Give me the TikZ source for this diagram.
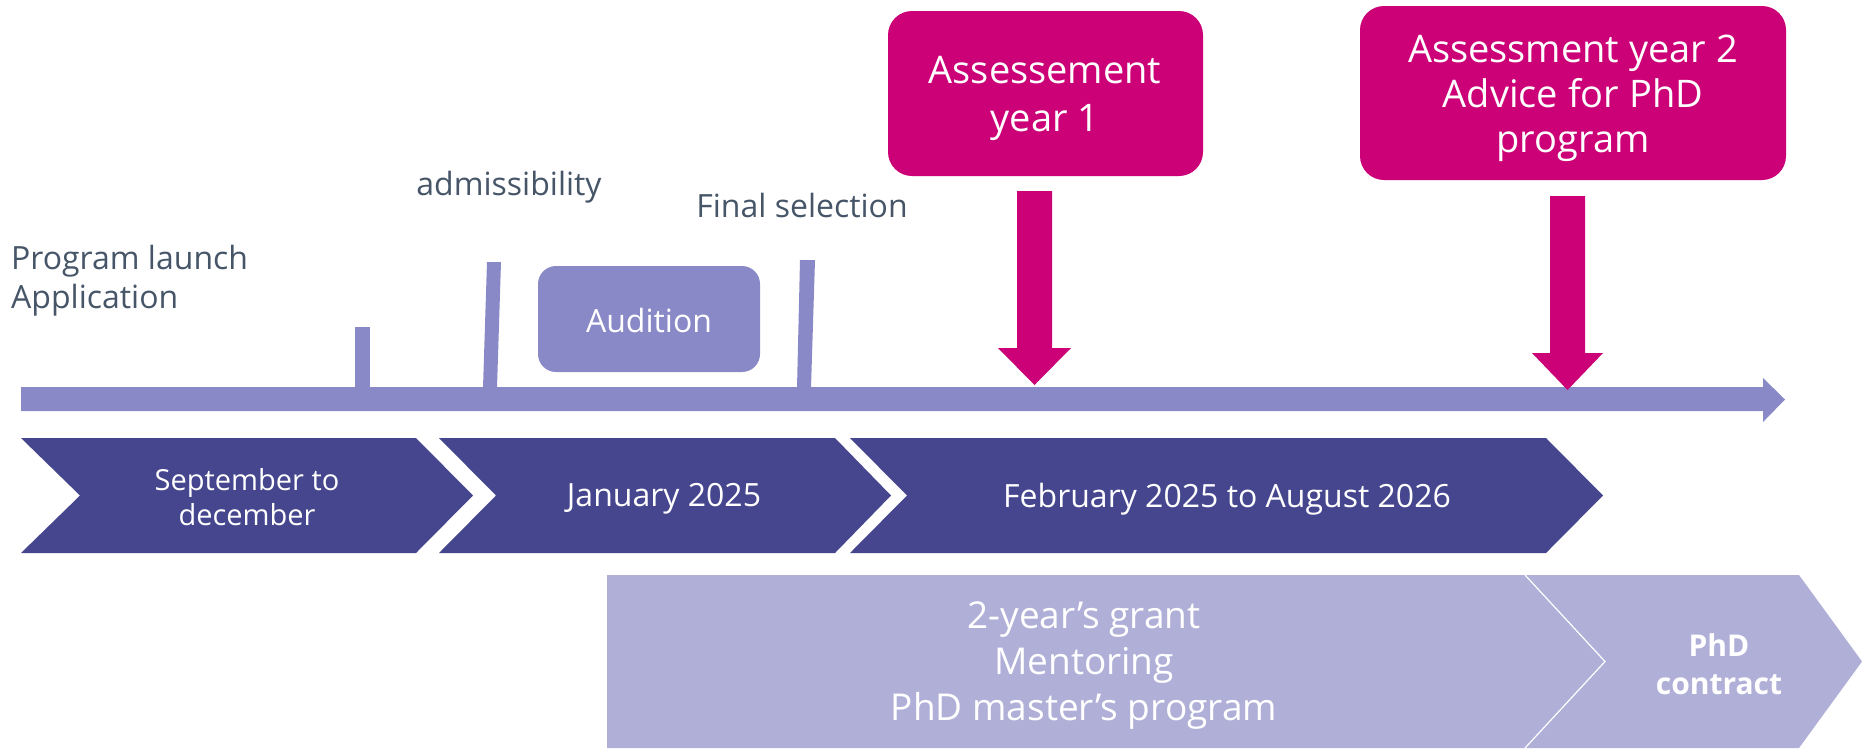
\documentclass[tikz,border=0pt]{standalone}
\usepackage{fontspec}
\setmainfont{Open Sans}
\definecolor{barc}{HTML}{8A89C7}
\definecolor{magc}{HTML}{CC0077}
\definecolor{darkc}{HTML}{46468F}
\definecolor{lightc}{HTML}{B0AFD8}
\definecolor{grayt}{HTML}{465668}
\tikzset{
  graylabel/.style={text=grayt,inner sep=0pt,font=\fontsize{32}{39}\selectfont,align=left},
  whitetxt/.style={text=white,inner sep=0pt,align=center},
}
\begin{document}
\begin{tikzpicture}[x=1pt,y=-1pt]
\clip (0,0) rectangle (1862,748);
\fill[white] (0,0) rectangle (1862,748);
% timeline bar
\fill[barc] (21,387) -- (1763,387) -- (1763,378) -- (1785,399.5) -- (1763,422) -- (1763,411) -- (21,411) -- cycle;
% ticks
\fill[barc] (355,327) -- (370,327) -- (370,388) -- (355,388) -- cycle;
\fill[barc] (487,262) -- (501,262) -- (497,388) -- (483,388) -- cycle;
\fill[barc] (800,260) -- (815,260) -- (811,388) -- (797,388) -- cycle;
% audition
\node[fill=barc,rounded corners=18pt,minimum width=222pt,minimum height=106pt,inner sep=0pt] (aud) at (649,319) {};
\node[whitetxt,font=\fontsize{32}{38}\selectfont] (audt) at (649,320) {Audition};
% gray labels
\node[graylabel,anchor=west] (launch) at (11,281) {Program launch\\Application};
\node[graylabel] (adm) at (509,187) {admissibility};
\node[graylabel] (fin) at (802,205) {Final selection};
% magenta boxes
\fill[magc,rounded corners=24pt] (888,11) rectangle (1203,176);
\node[whitetxt,font=\fontsize{38}{48}\selectfont] (a1) at (1045,98) {Assessement\\year 1};
\fill[magc,rounded corners=24pt] (1360,6) rectangle (1786,180);
\node[whitetxt,font=\fontsize{38}{45}\selectfont] (a2) at (1573,98) {Assessment year 2\\Advice for PhD\\program};
% magenta arrows
\fill[magc] (1017,191) -- (1052,191) -- (1052,348) -- (1071,348) -- (1034.5,385) -- (998,348) -- (1017,348) -- cycle;
\fill[magc] (1550,196) -- (1585,196) -- (1585,353) -- (1603,353) -- (1567.5,390) -- (1532,353) -- (1550,353) -- cycle;
% dark chevrons
\fill[darkc] (21,438) -- (416,438) -- (473,495.5) -- (416,553) -- (21,553) -- (80,495.5) -- cycle;
\fill[darkc] (439,438) -- (835,438) -- (891,495.5) -- (835,553) -- (439,553) -- (496,495.5) -- cycle;
\fill[darkc] (850,438) -- (1546,438) -- (1603,495.5) -- (1546,553) -- (850,553) -- (907,495.5) -- cycle;
\node[whitetxt,font=\fontsize{29}{35}\selectfont] (c1) at (247,497) {September to\\december};
\node[whitetxt,font=\fontsize{32}{38}\selectfont] (c2) at (664,499) {January 2025};
\node[whitetxt,font=\fontsize{32}{38}\selectfont] (c3) at (1227,499) {February 2025 to August 2026};
% light shapes
\fill[lightc] (607,575) -- (1525,575) -- (1605,661.5) -- (1525,748) -- (607,748) -- cycle;
\fill[lightc] (1525,575) -- (1799,575) -- (1862,661.5) -- (1799,748) -- (1525,748) -- (1605,661.5) -- cycle;
\draw[white,line width=1.2pt] (1525,575) -- (1605,661.5) -- (1525,748);
\node[whitetxt,font=\fontsize{37}{46}\selectfont] (g) at (1084,666) {2-year’s grant\\Mentoring\\PhD master’s program};
\node[whitetxt,font=\bfseries\fontsize{30}{38}\selectfont] (phd) at (1719,664) {PhD\\contract};
\end{tikzpicture}
\end{document}
